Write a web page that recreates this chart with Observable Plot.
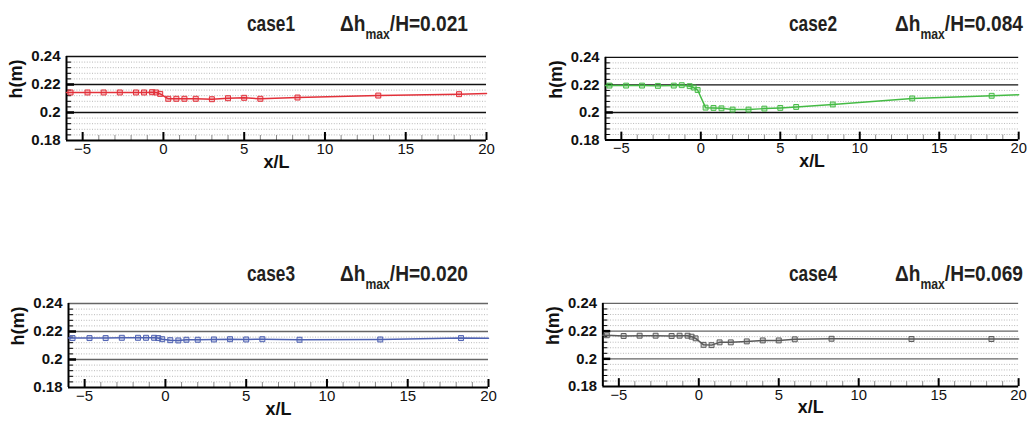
<!DOCTYPE html>
<html>
<head>
<meta charset="utf-8">
<script src="https://cdn.jsdelivr.net/npm/d3@7"></script>
<script src="https://cdn.jsdelivr.net/npm/@observablehq/plot@0.6"></script>
<style>
  html, body { margin: 0; padding: 0; background: #fff; }
  #root { position: relative; width: 1032px; height: 423px; overflow: hidden; background: #fff; }
  .panel { position: absolute; }
  .ttl { position: absolute; font-family: "Liberation Sans", Arial, sans-serif;
         font-weight: bold; font-size: 22px; line-height: 22px; color: #231f20; white-space: nowrap;
         transform-origin: 0 0; }
  .ttl sub { font-size: 14px; vertical-align: -8px; line-height: 0; }
</style>
</head>
<body>
<div id="root"></div>
<script>
// gauge positions (x/L)
const xGauge = [-5.75, -4.7, -3.7, -2.7, -1.7, -1.2, -0.7, -0.45, -0.2, 0.3, 0.8, 1.3, 2, 3, 4, 5, 6, 8.3, 13.3, 18.3];
// water depth h(m) at gauges
const case1H = [0.2143, 0.2143, 0.2143, 0.2143, 0.2143, 0.2143, 0.2145, 0.2143, 0.2133, 0.2098, 0.2098, 0.2098, 0.2098, 0.2095, 0.2102, 0.2105, 0.2098, 0.2107, 0.2121, 0.2131];
const case2H = [0.2195, 0.2195, 0.2195, 0.2193, 0.2195, 0.2198, 0.2191, 0.2181, 0.2163, 0.2035, 0.2033, 0.2030, 0.2021, 0.2021, 0.2028, 0.2033, 0.2040, 0.2058, 0.2102, 0.2121];
const case3H = [0.2153, 0.2153, 0.2153, 0.2155, 0.2155, 0.2155, 0.2155, 0.2153, 0.2145, 0.2138, 0.2136, 0.2141, 0.2141, 0.2143, 0.2145, 0.2143, 0.2145, 0.2141, 0.2143, 0.2153];
const case4H = [0.2170, 0.2165, 0.2167, 0.2167, 0.2165, 0.2167, 0.2167, 0.2160, 0.2148, 0.2101, 0.2099, 0.2119, 0.2119, 0.2126, 0.2133, 0.2133, 0.2141, 0.2145, 0.2143, 0.2143];
// line end values at x/L = -6 and x/L = 20
const lineStart = [0.2143, 0.2195, 0.2153, 0.2170];
const lineEnd = [0.2136, 0.2128, 0.2151, 0.2143];
const caseNames = ["case1", "case2", "case3", "case4"];
const ratios = ["0.021", "0.084", "0.020", "0.069"];
const colors = ["#e2313a", "#45bb45", "#4f62b2", "#5a5a5a"];
const gridColors = ["#111", "#111", "#666", "#666"];

const xTicks = [-5, 0, 5, 10, 15, 20];
const xMinor = d3.range(-6, 21).filter(d => d % 5 !== 0);
const yTicks = [0.18, 0.2, 0.22, 0.24];
const yMinor = d3.range(0, 16).filter(i => i % 5 !== 0).map(i => 0.18 + i * 0.004);

// layout (page px)
const layout = [
  {left: 0, top: 48, tLeft: 247, dLeft: 340, tTop: 13},
  {left: 540, top: 49, tLeft: 789, dLeft: 895, tTop: 13},
  {left: 2, top: 295, tLeft: 247, dLeft: 340, tTop: 263},
  {left: 537, top: 295, tLeft: 789, dLeft: 895, tTop: 263}
];
const caseW = 48, ratioW = 128;
const allH = [case1H, case2H, case3H, case4H];
const root = document.getElementById("root");
const W = 420, H = 84;

function fitWidth(el, target) {
  const w = el.getBoundingClientRect().width;
  if (w > 0) el.style.transform = `scaleX(${target / w})`;
}

allH.forEach((hs, k) => {
  const pts = xGauge.map((x, i) => ({x, h: hs[i]}));
  const line = [{x: -6, h: lineStart[k]}, ...pts, {x: 20, h: lineEnd[k]}];
  const color = colors[k];
  const plot = Plot.plot({
    width: 66 + W + 14, height: 8 + H + 40,
    marginLeft: 66, marginRight: 14, marginTop: 8, marginBottom: 40,
    x: {domain: [-6, 20]},
    y: {domain: [0.18, 0.24]},
    style: {fontFamily: "'Liberation Sans', Arial, sans-serif", fontSize: "15px", color: "#111", background: "transparent", overflow: "visible"},
    marks: [
      Plot.ruleY(yMinor, {stroke: "#b0b0b0", strokeDasharray: "1,1.6", strokeWidth: 0.9}),
      Plot.ruleY([0.2, 0.22, 0.24], {stroke: gridColors[k], strokeWidth: 1.4}),
      Plot.tickX(xMinor, {x: d => d, insetTop: H - 5, stroke: "#888", strokeWidth: 1}),
      Plot.tickX(xTicks, {x: d => d, insetTop: H - 8, stroke: "#000", strokeWidth: 2}),
      Plot.tickY(yMinor, {y: d => d, insetRight: W - 5, stroke: "#000", strokeWidth: 1}),
      Plot.tickY([0.2, 0.22], {y: d => d, insetRight: W - 8, stroke: "#000", strokeWidth: 2.5}),
      Plot.ruleX([-6], {stroke: "#000", strokeWidth: 2}),
      Plot.ruleY([0.18], {stroke: "#000", strokeWidth: 2}),
      Plot.line(line, {x: "x", y: "h", stroke: color, strokeWidth: 1.5}),
      Plot.dot(pts, {x: "x", y: "h", symbol: "square", r: 2.8, stroke: color, fill: color, fillOpacity: 0.25, strokeWidth: 1}),
      Plot.axisX({ticks: xTicks, tickSize: 0, tickPadding: 3, label: null, fontSize: 15}),
      Plot.axisY({ticks: yTicks, tickSize: 0, tickPadding: 6, tickFormat: d => String(+d.toFixed(2)), label: null, fontWeight: "bold", fontSize: 15}),
      Plot.text(["h(m)"], {text: d => d, frameAnchor: "left", dx: -50, rotate: -90, fontWeight: "bold", fontSize: 18}),
      Plot.text(["x/L"], {text: d => d, frameAnchor: "bottom", dy: 27, fontWeight: "bold", fontSize: 18})
    ]
  });
  const L = layout[k];
  const wrap = document.createElement("div");
  wrap.className = "panel";
  wrap.style.left = L.left + "px";
  wrap.style.top = L.top + "px";
  wrap.appendChild(plot);
  root.appendChild(wrap);

  const t1 = document.createElement("div");
  t1.className = "ttl";
  t1.style.left = L.tLeft + "px";
  t1.style.top = L.tTop + "px";
  t1.textContent = caseNames[k];
  root.appendChild(t1);
  fitWidth(t1, caseW);

  const t2 = document.createElement("div");
  t2.className = "ttl";
  t2.style.left = L.dLeft + "px";
  t2.style.top = L.tTop + "px";
  t2.innerHTML = "Δh<sub>max</sub>/H=" + ratios[k];
  root.appendChild(t2);
  fitWidth(t2, ratioW);
});
</script>
</body>
</html>
